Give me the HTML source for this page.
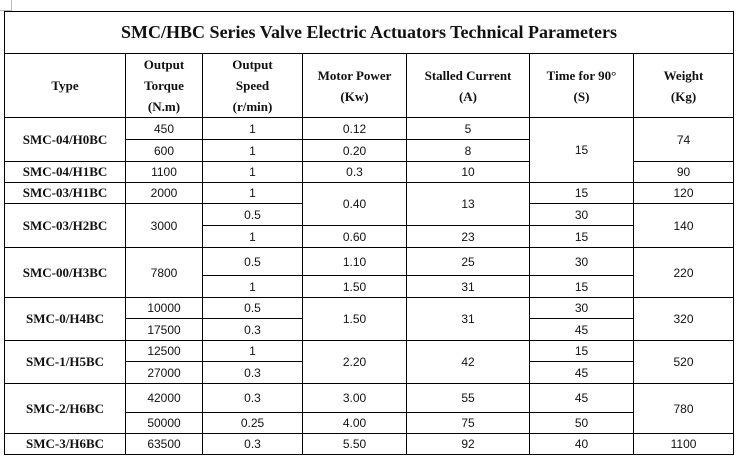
<!DOCTYPE html>
<html><head><meta charset="utf-8"><style>
body{margin:0;background:#fff;width:739px;height:457px;overflow:hidden;position:relative}
table{position:absolute;left:4px;top:11px;border-collapse:collapse;table-layout:fixed;width:730px}
td{border:1px solid #000;padding:0;text-align:center;vertical-align:middle;font-family:"Liberation Sans",sans-serif;font-size:12px;color:#111;overflow:hidden;white-space:nowrap}
.t{font-family:"Liberation Serif",serif;font-weight:bold;font-size:18px}
.h td{font-family:"Liberation Serif",serif;font-weight:bold;font-size:13px;line-height:21px}
.b{font-family:"Liberation Serif",serif;font-weight:bold;font-size:13px}
.m1{position:absolute;left:11px;top:0;width:1px;height:11px;background:#bbb}
.m2{position:absolute;left:0;top:10px;width:11px;height:1px;background:#bbb}
</style></head><body>
<div class="m1"></div><div class="m2"></div>
<table>
<colgroup><col style="width:121px"><col style="width:77px"><col style="width:100px"><col style="width:104px"><col style="width:123px"><col style="width:104px"><col style="width:100px"></colgroup>
<tr style="height:42px"><td colspan="7" class="t">SMC/HBC Series Valve Electric Actuators Technical Parameters</td></tr>
<tr class="h" style="height:64px"><td>Type</td><td>Output<br>Torque<br>(N.m)</td><td>Output<br>Speed<br>(r/min)</td><td>Motor Power<br>(Kw)</td><td>Stalled Current<br>(A)</td><td>Time for 90°<br>(S)</td><td>Weight<br>(Kg)</td></tr>
<tr style="height:22px"><td rowspan="2" class="b">SMC-04/H0BC</td><td>450</td><td>1</td><td>0.12</td><td>5</td><td rowspan="3">15</td><td rowspan="2">74</td></tr>
<tr style="height:22px"><td>600</td><td>1</td><td>0.20</td><td>8</td></tr>
<tr style="height:21px"><td class="b">SMC-04/H1BC</td><td>1100</td><td>1</td><td>0.3</td><td>10</td><td>90</td></tr>
<tr style="height:21px"><td class="b">SMC-03/H1BC</td><td>2000</td><td>1</td><td rowspan="2">0.40</td><td rowspan="2">13</td><td>15</td><td>120</td></tr>
<tr style="height:22px"><td rowspan="2" class="b">SMC-03/H2BC</td><td rowspan="2">3000</td><td>0.5</td><td>30</td><td rowspan="2">140</td></tr>
<tr style="height:22px"><td>1</td><td>0.60</td><td>23</td><td>15</td></tr>
<tr style="height:28px"><td rowspan="2" class="b">SMC-00/H3BC</td><td rowspan="2">7800</td><td>0.5</td><td>1.10</td><td>25</td><td>30</td><td rowspan="2">220</td></tr>
<tr style="height:22px"><td>1</td><td>1.50</td><td>31</td><td>15</td></tr>
<tr style="height:21px"><td rowspan="2" class="b">SMC-0/H4BC</td><td>10000</td><td>0.5</td><td rowspan="2">1.50</td><td rowspan="2">31</td><td>30</td><td rowspan="2">320</td></tr>
<tr style="height:22px"><td>17500</td><td>0.3</td><td>45</td></tr>
<tr style="height:21px"><td rowspan="2" class="b">SMC-1/H5BC</td><td>12500</td><td>1</td><td rowspan="2">2.20</td><td rowspan="2">42</td><td>15</td><td rowspan="2">520</td></tr>
<tr style="height:22px"><td>27000</td><td>0.3</td><td>45</td></tr>
<tr style="height:29px"><td rowspan="2" class="b">SMC-2/H6BC</td><td>42000</td><td>0.3</td><td>3.00</td><td>55</td><td>45</td><td rowspan="2">780</td></tr>
<tr style="height:21px"><td>50000</td><td>0.25</td><td>4.00</td><td>75</td><td>50</td></tr>
<tr style="height:21px"><td class="b">SMC-3/H6BC</td><td>63500</td><td>0.3</td><td>5.50</td><td>92</td><td>40</td><td>1100</td></tr>
</table>
</body></html>
